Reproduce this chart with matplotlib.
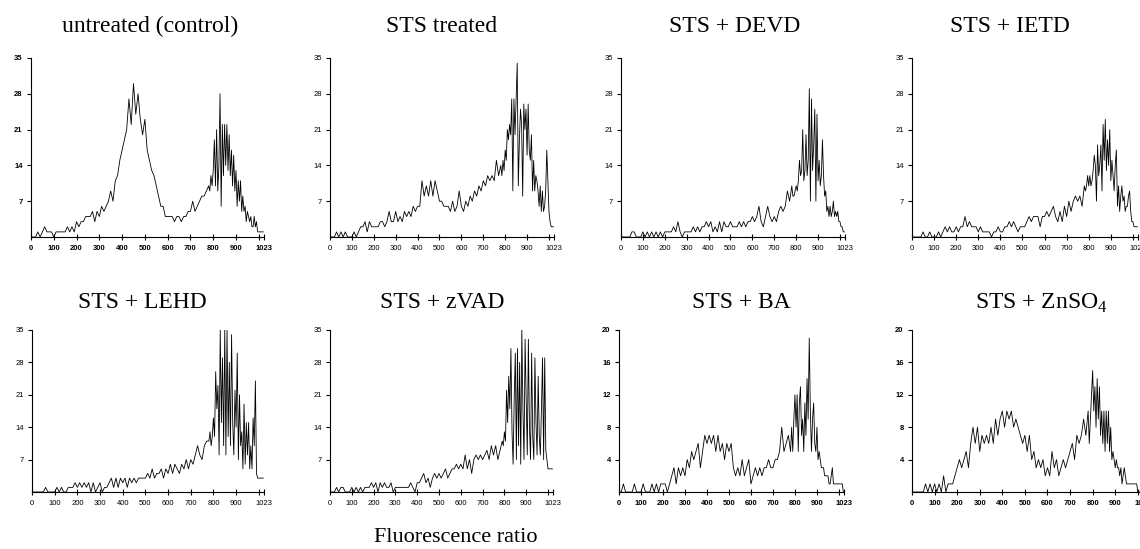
import numpy as np
import matplotlib.pyplot as plt

plt.rcParams["font.family"] = ["Liberation Sans", "DejaVu Sans"]
plt.rcParams["mathtext.fontset"] = "custom"
plt.rcParams["mathtext.rm"] = "Liberation Serif"

# canales del histograma: cada 10 hasta 770, cada 5 en la zona de picos
canales = np.concatenate([np.arange(0, 780, 10), np.arange(780, 1021, 5)])

untreated = [0, 0, 0, 1, 0, 1, 2, 1, 1, 1,
             0, 1, 1, 1, 1, 1, 2, 1, 2, 1,
             3, 2, 3, 3, 4, 4, 4, 5, 3, 5,
             4, 6, 5, 6, 7, 9, 7, 11, 12, 15,
             17, 19, 21, 27, 22, 30, 24, 28, 23, 20,
             23, 17, 15, 13, 12, 10, 8, 6, 6, 4,
             4, 4, 4, 3, 4, 4, 3, 4, 4, 5,
             5, 7, 5, 6, 7, 8, 8, 9,
             10, 9, 12, 10, 13, 19, 10, 21, 9, 14,
             28, 6, 22, 12, 22, 14, 22, 13, 20, 12,
             17, 10, 16, 9, 13, 6, 11, 7, 11, 5,
             8, 5, 6, 3, 5, 4, 3, 4, 2, 2,
             4, 2, 3, 1, 1, 1, 1, 1, 1]

sts = [0, 0, 0, 1, 0, 1, 0, 1, 0, 0,
       0, 1, 0, 1, 2, 2, 3, 1, 3, 2,
       2, 2, 2, 3, 3, 2, 3, 5, 3, 3,
       5, 3, 4, 3, 5, 4, 5, 4, 6, 5,
       6, 6, 11, 8, 10, 8, 11, 8, 11, 9,
       7, 7, 6, 6, 6, 5, 7, 5, 6, 9,
       6, 5, 7, 6, 8, 7, 9, 8, 10, 9,
       11, 10, 12, 11, 12, 11, 15, 12,
       14, 12, 15, 13, 17, 15, 21, 19, 22, 20,
       27, 9, 27, 20, 27, 34, 10, 19, 25, 22,
       8, 26, 21, 25, 16, 26, 17, 15, 20, 9,
       15, 9, 12, 11, 9, 6, 10, 5, 9, 5,
       6, 9, 17, 11, 5, 3, 2, 2, 2]

devd = [0, 0, 0, 0, 0, 1, 1, 0, 0, 0,
        1, 0, 1, 0, 1, 0, 1, 0, 1, 0,
        1, 1, 1, 1, 2, 1, 3, 1, 0, 1,
        1, 1, 1, 2, 1, 2, 1, 2, 2, 3,
        2, 3, 1, 2, 1, 3, 1, 3, 2, 2,
        3, 2, 2, 2, 3, 2, 3, 2, 3, 3,
        4, 3, 4, 6, 3, 2, 4, 6, 4, 3,
        4, 3, 5, 6, 5, 6, 9, 7,
        10, 8, 8, 9, 10, 9, 11, 15, 12, 13,
        21, 11, 13, 20, 12, 15, 29, 7, 27, 13,
        18, 25, 7, 24, 11, 15, 10, 12, 19, 12,
        8, 9, 5, 6, 4, 6, 4, 5, 7, 4,
        5, 4, 5, 3, 3, 2, 2, 1, 1]

ietd = [0, 0, 0, 0, 0, 1, 0, 0, 1, 0,
        0, 0, 1, 0, 1, 2, 1, 2, 1, 1,
        2, 1, 2, 2, 4, 2, 3, 2, 2, 2,
        1, 2, 1, 1, 1, 1, 0, 1, 1, 2,
        1, 1, 2, 2, 3, 2, 3, 2, 1, 2,
        2, 2, 3, 4, 3, 4, 4, 4, 2, 4,
        4, 5, 4, 5, 6, 4, 3, 5, 3, 6,
        4, 7, 5, 7, 8, 7, 8, 6,
        10, 9, 10, 12, 10, 12, 10, 11, 13, 16,
        14, 7, 18, 12, 14, 18, 9, 22, 15, 23,
        13, 19, 14, 21, 11, 15, 12, 9, 14, 17,
        6, 10, 5, 8, 10, 7, 8, 5, 6, 6,
        8, 9, 5, 3, 3, 2, 2, 2, 2]

lehd = [0, 0, 0, 0, 0, 0, 1, 0, 0, 0,
        0, 1, 0, 1, 0, 0, 1, 1, 1, 2,
        1, 2, 1, 2, 1, 2, 0, 2, 0, 1,
        2, 0, 1, 1, 2, 3, 1, 3, 1, 3,
        2, 3, 1, 3, 2, 3, 2, 3, 3, 3,
        3, 4, 3, 5, 3, 4, 4, 5, 3, 5,
        4, 6, 4, 6, 5, 4, 6, 5, 7, 5,
        7, 6, 8, 10, 8, 7, 10, 11,
        11, 13, 10, 12, 16, 12, 26, 18, 23, 8,
        35, 15, 29, 10, 35, 8, 35, 12, 28, 10,
        34, 15, 8, 22, 14, 30, 7, 21, 10, 13,
        5, 19, 6, 15, 8, 15, 5, 10, 5, 16,
        10, 24, 4, 3, 3, 3, 3, 3, 3]

zvad = [0, 0, 0, 1, 0, 1, 1, 0, 0, 0,
        1, 0, 1, 0, 1, 0, 1, 1, 1, 2,
        1, 2, 0, 2, 1, 2, 1, 1, 2, 0,
        1, 1, 1, 1, 1, 1, 1, 2, 1, 0,
        2, 2, 3, 4, 2, 3, 1, 3, 4, 3,
        4, 3, 4, 5, 3, 4, 5, 5, 6, 5,
        6, 5, 8, 5, 7, 4, 7, 8, 7, 8,
        7, 8, 9, 7, 10, 8, 10, 7,
        9, 10, 11, 10, 13, 11, 22, 15, 25, 18,
        31, 13, 6, 20, 30, 7, 31, 10, 28, 6,
        35, 18, 7, 33, 20, 8, 33, 14, 7, 30,
        12, 7, 29, 15, 8, 25, 12, 8, 18, 29,
        7, 29, 9, 7, 5, 5, 5, 5, 5]

ba = [0, 0, 1, 0, 0, 0, 0, 1, 0, 0,
      0, 1, 0, 0, 0, 1, 0, 1, 0, 1,
      1, 1, 0, 1, 2, 3, 1, 3, 2, 3,
      2, 4, 3, 5, 4, 5, 6, 3, 5, 7,
      6, 7, 6, 7, 5, 7, 5, 6, 4, 6,
      5, 6, 3, 2, 3, 2, 4, 2, 3, 4,
      1, 2, 3, 2, 3, 2, 3, 3, 4, 3,
      3, 4, 4, 5, 8, 5, 6, 7,
      5, 8, 5, 9, 12, 8, 12, 5, 11, 13,
      7, 9, 5, 11, 7, 14, 9, 19, 10, 5,
      9, 11, 6, 5, 8, 4, 5, 4, 3, 3,
      3, 2, 2, 2, 2, 1, 1, 2, 3, 1,
      1, 1, 1, 1, 1, 1, 1, 1, 0]

znso4 = [0, 0, 0, 0, 0, 0, 1, 0, 1, 0,
         1, 0, 1, 0, 2, 0, 1, 1, 1, 2,
         3, 4, 3, 4, 5, 3, 6, 8, 6, 8,
         5, 7, 6, 7, 6, 8, 6, 9, 7, 9,
         10, 8, 10, 9, 10, 8, 9, 8, 7, 6,
         7, 5, 7, 4, 5, 3, 4, 3, 4, 2,
         3, 2, 5, 3, 4, 2, 3, 4, 3, 4,
         5, 6, 4, 7, 6, 7, 9, 7,
         10, 6, 9, 12, 15, 10, 13, 8, 14, 9,
         13, 7, 10, 6, 10, 5, 10, 6, 10, 5,
         8, 4, 5, 4, 3, 4, 3, 3, 2, 3,
         1, 2, 3, 2, 1, 1, 1, 1, 1, 1,
         1, 1, 1, 1, 0, 0, 0, 0, 0]

series = [untreated, sts, devd, ietd, lehd, zvad, ba, znso4]
titulos = ["untreated (control)", "STS treated", "STS + DEVD", "STS + IETD",
           "STS + LEHD", "STS + zVAD", "STS + BA", r"STS + ZnSO$_\mathrm{4}$"]
ymax = [35, 35, 35, 35, 35, 35, 20, 20]
negrita = [True, False, False, False, False, False, True, True]

xticks = [0, 100, 200, 300, 400, 500, 600, 700, 800, 900, 1000, 1023]
xlabels = ["0", "100", "200", "300", "400", "500", "600", "700", "800", "900", "", "1023"]

for s in series:
    assert len(s) == len(canales), len(s)

W, H = 1140, 549
fig = plt.figure(figsize=(W / 100, H / 100), dpi=100)

# cajas en pixeles: izquierda, arriba, derecha, abajo
cajas = [(31, 58, 264, 237), (330, 58, 554, 237), (621, 58, 845, 237), (912, 58, 1138, 237),
         (32, 330, 264, 492), (330, 330, 553, 492), (619, 330, 844, 492), (912, 330, 1143, 492)]
titulo_xy = [(150, 26), (442, 26), (735, 26), (1010, 26),
             (142, 303), (442, 303), (741, 303), (1041, 303)]

for i in range(8):
    x0, y0, x1, y1 = cajas[i]
    ax = fig.add_axes([x0 / W, 1 - y1 / H, (x1 - x0) / W, (y1 - y0) / H])
    ax.plot(canales, series[i], color="black", lw=0.6)
    ax.set_xlim(0, 1023)
    ax.set_ylim(0, ymax[i])
    paso = ymax[i] // 5
    ax.set_yticks(np.arange(paso, ymax[i] + 1, paso))
    ax.set_xticks(xticks)
    ax.set_xticklabels(xlabels)
    for lado in ["top", "right"]:
        ax.spines[lado].set_visible(False)
    for lado in ["left", "bottom"]:
        ax.spines[lado].set_linewidth(0.8)
    peso = "bold" if negrita[i] else "normal"
    ax.tick_params(axis="x", direction="inout", length=4, width=0.8, labelsize=5.5, pad=4)
    ax.tick_params(axis="y", direction="out", length=3, width=0.8, labelsize=5.5, pad=3)
    for lab in ax.get_xticklabels() + ax.get_yticklabels():
        lab.set_fontweight(peso)
    tx, ty = titulo_xy[i]
    fig.text(tx / W, 1 - ty / H, titulos[i], ha="center", va="center",
             fontsize=17, family="Liberation Serif")

fig.text(456 / W, 1 - 538 / H, "Fluorescence ratio", ha="center", va="center",
         fontsize=16, family="Liberation Serif")

fig.savefig("out.png", dpi=100)
